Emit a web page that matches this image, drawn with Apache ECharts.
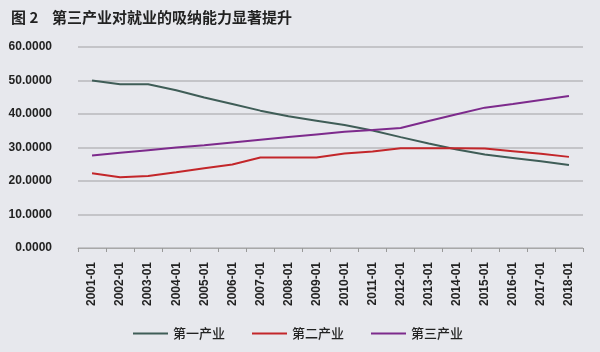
<!DOCTYPE html>
<html>
<head>
<meta charset="utf-8">
<script src="https://cdn.jsdelivr.net/npm/echarts@6/dist/echarts.min.js"></script>
<style>
  html, body { margin: 0; padding: 0; background: #e7e8ed; }
  #main { width: 600px; height: 352px; }
</style>
</head>
<body>
<div id="main"></div>
<script>
// 年份
const years = ['2001-01', '2002-01', '2003-01', '2004-01', '2005-01', '2006-01',
  '2007-01', '2008-01', '2009-01', '2010-01', '2011-01', '2012-01',
  '2013-01', '2014-01', '2015-01', '2016-01', '2017-01', '2018-01'];

// 三次产业就业占比（%）
const primary = [50.0, 48.9, 48.9, 47.1, 44.9, 43.0, 41.0, 39.3, 38.0, 36.7,
  35.1, 33.1, 31.2, 29.4, 27.9, 26.9, 25.9, 24.8];
const secondary = [22.3, 21.1, 21.5, 22.6, 23.8, 24.9, 27.0, 27.0, 27.0, 28.2,
  28.8, 29.8, 29.8, 29.8, 29.7, 28.9, 28.1, 27.2];
const tertiary = [27.6, 28.4, 29.2, 30.0, 30.7, 31.5, 32.3, 33.1, 33.9, 34.7,
  35.2, 35.8, 37.9, 39.9, 41.9, 43.0, 44.2, 45.4];

const seriesNames = ['第一产业', '第二产业', '第三产业'];
const colors = ['#3f5d57', '#c3262a', '#7d2a8c'];

const chart = echarts.init(document.getElementById('main'));

function mkLine(name, data, color) {
  return {
    name: name,
    type: 'line',
    data: data,
    symbol: 'none',
    lineStyle: { color: color, width: 2 },
    itemStyle: { color: color }
  };
}

const option = {
  backgroundColor: '#e7e8ed',
  animation: false,
  title: {
    text: '图 2    第三产业对就业的吸纳能力显著提升',
    left: 6,
    top: 5,
    textStyle: {
      fontFamily: 'Noto Sans CJK SC',
      fontSize: 15,
      fontWeight: 'bold',
      color: '#222'
    }
  },
  legend: {
    data: seriesNames,
    bottom: 7,
    left: 128,
    icon: 'rect',
    itemWidth: 35,
    itemHeight: 2,
    itemGap: 27,
    textStyle: {
      fontFamily: 'Noto Sans CJK SC',
      fontSize: 13,
      fontWeight: 500,
      color: '#222'
    }
  },
  grid: {
    left: 78,
    right: 17,
    top: 47,
    bottom: 104,
    containLabel: false
  },
  xAxis: {
    type: 'category',
    data: years,
    boundaryGap: true,
    axisLine: { lineStyle: { color: '#a8a8a8', width: 1 } },
    axisTick: { show: true, length: 4, lineStyle: { color: '#999' } },
    axisLabel: {
      rotate: 90,
      margin: 14,
      fontFamily: 'Liberation Sans',
      fontSize: 12,
      fontWeight: 'bold',
      color: '#222'
    },
    splitLine: { show: false }
  },
  yAxis: {
    type: 'value',
    min: 0,
    max: 60,
    interval: 10,
    axisLine: { show: false },
    axisTick: { show: false },
    axisLabel: {
      margin: 26,
      fontFamily: 'Liberation Sans',
      fontSize: 12,
      fontWeight: 'bold',
      color: '#222',
      formatter: (v) => v.toFixed(4)
    },
    splitLine: { lineStyle: { color: '#b9b9bb', width: 1.5 } }
  },
  series: [
    mkLine(seriesNames[0], primary, colors[0]),
    mkLine(seriesNames[1], secondary, colors[1]),
    mkLine(seriesNames[2], tertiary, colors[2])
  ]
};

chart.setOption(option);
</script>
</body>
</html>
